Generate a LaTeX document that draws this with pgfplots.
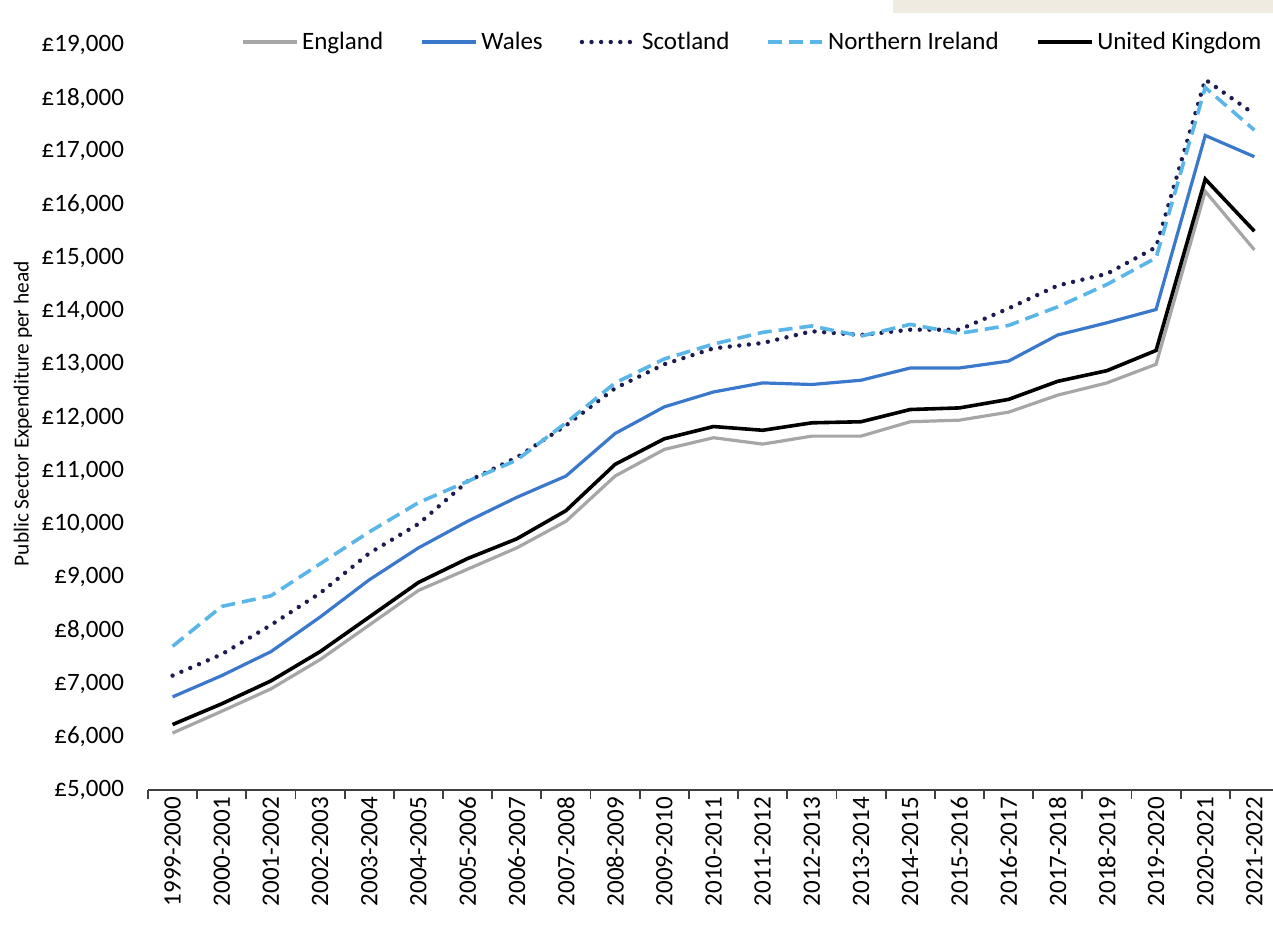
\documentclass[border=0pt]{standalone}
\usepackage{pgfplots}
\pgfplotsset{compat=1.18}
\usepackage{pgfplotstable}
\usepackage{fontspec}
\setmainfont{Carlito}
\definecolor{engl}{HTML}{A6A6A6}
\definecolor{wales}{HTML}{3A78CC}
\definecolor{scot}{HTML}{1C1C50}
\definecolor{nire}{HTML}{5AB5E8}
\definecolor{beigebar}{HTML}{EFEBE1}
\pgfplotstableread{
idx england wales scotland nire uk
0 6070 6750 7150 7700 6230
1 6480 7150 7550 8450 6620
2 6900 7600 8100 8650 7050
3 7450 8250 8700 9250 7600
4 8100 8950 9450 9850 8250
5 8750 9550 10000 10400 8900
6 9150 10050 10800 10800 9350
7 9550 10500 11250 11200 9720
8 10050 10900 11850 11900 10250
9 10900 11700 12550 12650 11120
10 11400 12200 13000 13100 11600
11 11620 12480 13300 13380 11830
12 11500 12650 13400 13600 11760
13 11650 12620 13620 13720 11900
14 11650 12700 13550 13530 11920
15 11920 12930 13650 13750 12150
16 11950 12930 13650 13580 12180
17 12100 13060 14050 13730 12340
18 12420 13550 14480 14080 12680
19 12650 13780 14700 14500 12880
20 13000 14030 15200 15000 13260
21 16250 17300 18350 18200 16480
22 15150 16900 17700 17400 15500
}\datatable
\begin{document}
\begin{tikzpicture}[x=1pt,y=1pt]
\fill[beigebar] (372.5,388.5) rectangle (570,400);
\begin{axis}[
  at={(0,0)}, anchor=south west,
  scale only axis, width=565.5pt, height=372.5pt,
  xmin=-0.5, xmax=22.5, ymin=5000, ymax=19000,
  axis x line=bottom, axis y line=left,
  x axis line style={-, draw=black!75, line width=1pt},
  y axis line style={draw=none},
  xtick={0,...,22},
  xticklabels={1999-2000,2000-2001,2001-2002,2002-2003,2003-2004,2004-2005,2005-2006,2006-2007,2007-2008,2008-2009,2009-2010,2010-2011,2011-2012,2012-2013,2013-2014,2014-2015,2015-2016,2016-2017,2017-2018,2018-2019,2019-2020,2020-2021,2021-2022},
  minor xtick={-0.5,0.5,...,22.5},
  xtick align=outside,
  major tick length=0pt,
  minor tick length=4.5pt,
  minor tick style={draw=black!75, line width=0.9pt},
  scaled y ticks=false,
  ytick={5000,6000,...,19000},
  yticklabels={{£5,000},{£6,000},{£7,000},{£8,000},{£9,000},{£10,000},{£11,000},{£12,000},{£13,000},{£14,000},{£15,000},{£16,000},{£17,000},{£18,000},{£19,000}},
  ytick style={draw=none},
  /pgf/number format/assume math mode=true,
  tick label style={font=\fontsize{12.5}{15}\selectfont, text=black},
  yticklabel style={xshift=-8.5pt},
  xticklabel style={rotate=90, anchor=east},
  ylabel={Public Sector Expenditure per head},
  ylabel style={at={(axis description cs:-0.1105,0.505)}, rotate=0, anchor=center, font=\fontsize{10.7}{12}\selectfont},
  legend columns=5,
  legend style={at={(0.535,1.004)}, anchor=center, draw=none, fill=none,
    font=\fontsize{12.5}{15}\selectfont,
    /tikz/every even column/.append style={column sep=16.5pt}},
  legend image code/.code={\draw[#1] (0pt,0pt) -- (27pt,0pt);},
  clip=false,
]
\addplot[engl, line width=1.6pt] table[x=idx, y=england] {\datatable};
\addlegendentry{England}
\addplot[wales, line width=1.6pt] table[x=idx, y=wales] {\datatable};
\addlegendentry{Wales}
\addplot[scot, line width=2.2pt, line cap=round, dash pattern=on 0pt off 4.8pt] table[x=idx, y=scotland] {\datatable};
\addlegendentry{Scotland}
\addplot[nire, line width=1.8pt, dash pattern=on 7pt off 3.5pt] table[x=idx, y=nire] {\datatable};
\addlegendentry{Northern Ireland}
\addplot[black, line width=1.8pt] table[x=idx, y=uk] {\datatable};
\addlegendentry{United Kingdom}
\end{axis}
\pgfresetboundingbox
\path[use as bounding box] (-74,-67.5) rectangle (562.5,395);
\end{tikzpicture}
\end{document}
